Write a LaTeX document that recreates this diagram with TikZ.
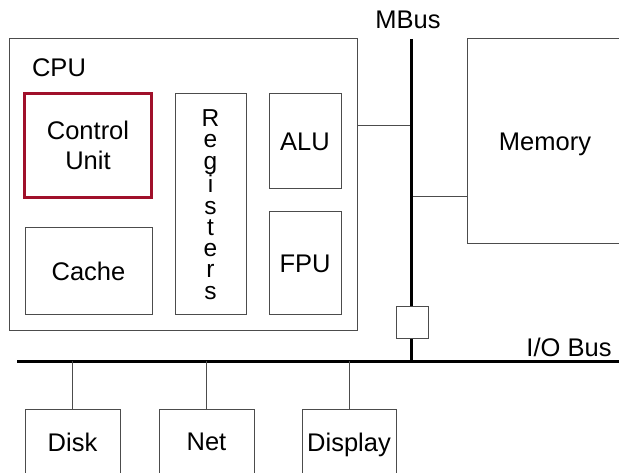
\documentclass[tikz,border=0pt]{standalone}
\usepackage{fontspec}
\setmainfont{Liberation Sans}
\begin{document}
\begin{tikzpicture}[x=1pt,y=-1pt,
  box/.style={draw=black!70,line width=1pt,fill=white,inner sep=0pt,anchor=center,
    font=\fontsize{25.5}{30}\selectfont,align=center},
  nodepth/.style={text height=18.3pt,text depth=0pt},
  lbl/.style={inner sep=0pt,font=\fontsize{25.5}{30}\selectfont},
  bus/.style={line width=3pt,black},
  link/.style={draw=black!70,line width=1pt}]
\clip (0,0) rectangle (619,473);
\fill[white] (0,0) rectangle (619,473);
% CPU
\node[box,minimum width=348pt,minimum height=292pt] (cpu) at (183,185) {};
\node[lbl] (cpulbl) at (59,68) {CPU};
\node[box,draw={rgb,255:red,160;green,16;blue,42},line width=3pt,
  minimum width=127pt,minimum height=104pt] (cu) at (88,145.5) {Control\\Unit};
\node[box,minimum width=127pt,minimum height=87pt] (cache) at (88.5,271.5) {Cache};
\node[box,minimum width=71pt,minimum height=221pt] (reg) at (210.5,204.5) {};
\node[inner sep=0pt,align=center,font=\fontsize{24.5}{21.25}\selectfont,anchor=north]
  (reglbl) at (210.5,109.5) {R\\e\\g\\i\\s\\t\\e\\r\\s};
\node[box,minimum width=72pt,minimum height=95pt] (alu) at (305,141.5) {ALU};
\node[box,minimum width=72pt,minimum height=103pt] (fpu) at (305,263.5) {FPU};
% Memory
\node[box,nodepth,minimum width=156pt,minimum height=205pt] (mem) at (545,141.5) {Memory};
% MBus
\coordinate (mtop) at (411,39);
\coordinate (mbot) at (411,361);
\coordinate (mb1) at (411,126);
\coordinate (mb2) at (411,197);
\draw[link] (cpu.east |- mb1) -- (mb1);
\draw[link] (mb2) -- (mem.west |- mb2);
\draw[bus,line cap=butt] (mtop) -- (mbot);
\node[box,minimum width=32pt,minimum height=32pt] (bridge) at (412,323) {};
\node[lbl] (mbuslbl) at (408,20) {MBus};
% I/O bus
\coordinate (iol) at (17,361);
\coordinate (ior) at (619,361);
\draw[bus] (iol) -- (ior);
\node[lbl] (iolbl) at (569,347) {I/O Bus};
% devices
\node[box,minimum width=95pt,minimum height=66pt] (disk) at (72.5,442) {Disk};
\node[box,minimum width=95pt,minimum height=66pt] (net) at (206.5,442) {Net};
\node[box,nodepth,minimum width=94pt,minimum height=66pt] (disp) at (349,442) {Display};
\draw[link] (disk.north |- iol) -- (disk.north);
\draw[link] (net.north |- iol) -- (net.north);
\draw[link] (disp.north |- iol) -- (disp.north);
\end{tikzpicture}
\end{document}
